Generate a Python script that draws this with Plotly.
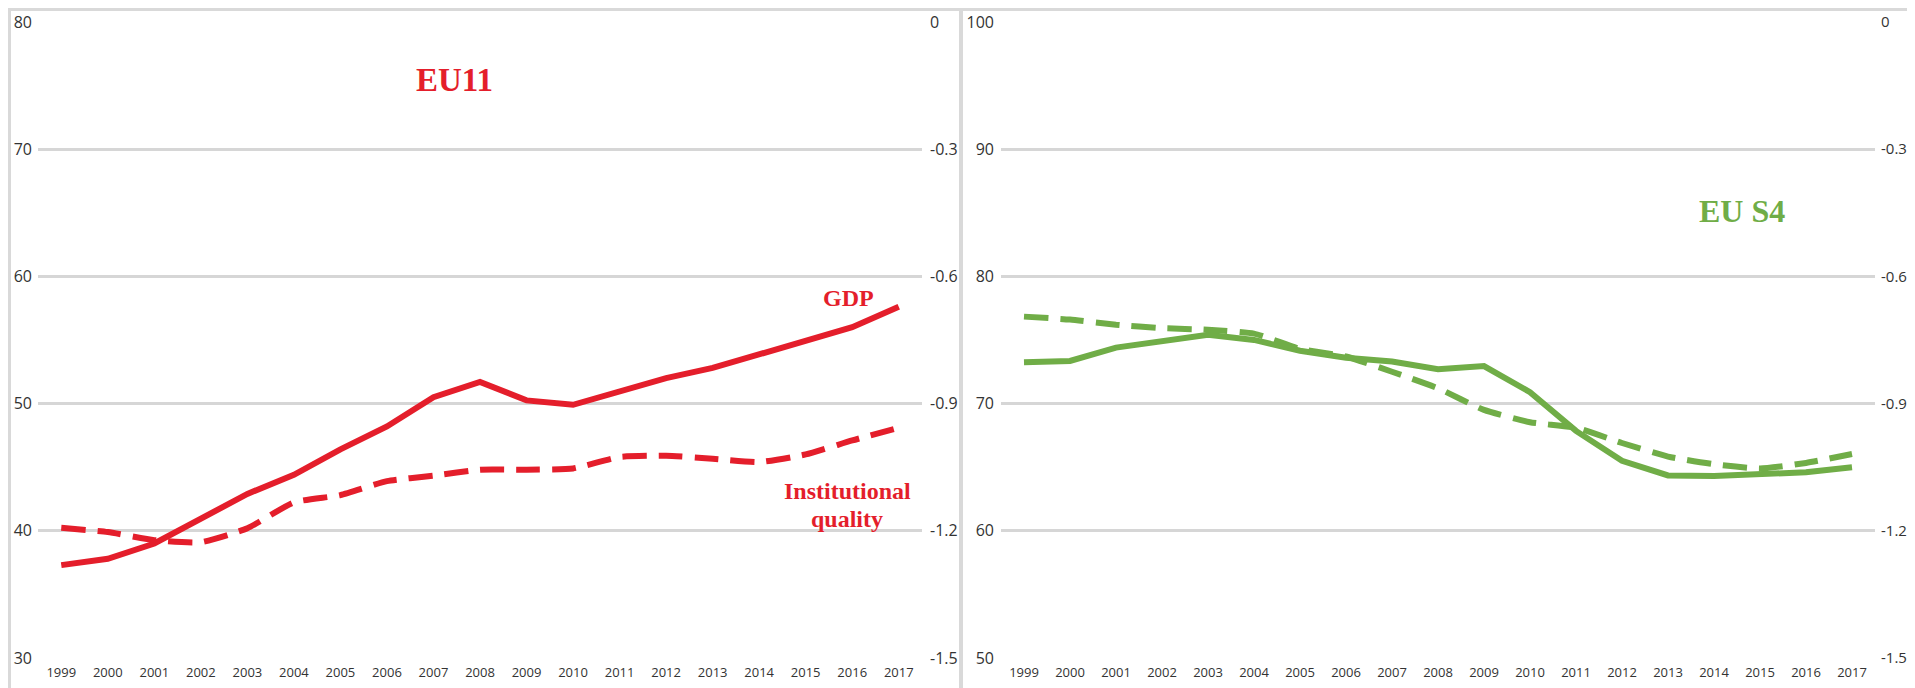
import plotly.graph_objects as go

years = [str(y) for y in range(1999, 2018)]

# EU11 (left panel)
eu11_gdp = [37.3, 37.8, 39.0, 40.9, 42.9, 44.4, 46.4, 48.2, 50.5, 51.7,
            50.25, 49.9, 51.0, 52.0, 52.8, 53.9, 55.0, 56.0, 57.6]
eu11_inst = [-1.193, -1.203, -1.222, -1.227, -1.194, -1.133, -1.116, -1.083, -1.070, -1.056,
             -1.056, -1.053, -1.026, -1.023, -1.030, -1.038, -1.020, -0.987, -0.957]

# EU S4 (right panel)
eus4_gdp = [73.25, 73.35, 74.4, 74.9, 75.4, 75.0, 74.15, 73.6, 73.3, 72.7,
            72.95, 70.9, 67.85, 65.5, 64.35, 64.3, 64.5, 64.6, 65.0]
eus4_inst = [-0.695, -0.702, -0.714, -0.722, -0.726, -0.735, -0.771, -0.789, -0.825, -0.864,
             -0.915, -0.944, -0.957, -0.993, -1.025, -1.043, -1.053, -1.040, -1.019]

left_ticks = [30, 40, 50, 60, 70, 80]
right_ticks = [50, 60, 70, 80, 90, 100]
sec_ticks = [0, -0.3, -0.6, -0.9, -1.2, -1.5]
sec_labels = ["0", "-0.3", "-0.6", "-0.9", "-1.2", "-1.5"]

RED = "#E41E2B"
GREEN = "#70AD47"
GRID = "#D6D6D6"
TXT = "#333333"
W, H = 1915, 688
OFF = 8  # page body margin offset


def px(x):
    return (x - OFF) / W


def py(y):
    return 1 - (y - OFF) / H


fig = go.Figure()
fig.add_trace(go.Scatter(x=years, y=eu11_gdp, mode="lines", xaxis="x", yaxis="y",
                         line=dict(color=RED, width=6), showlegend=False))
fig.add_trace(go.Scatter(x=years, y=eu11_inst, mode="lines", xaxis="x", yaxis="y2",
                         line=dict(color=RED, width=6, dash="24px,12px", shape="spline", smoothing=0.5),
                         showlegend=False))
fig.add_trace(go.Scatter(x=years, y=eus4_gdp, mode="lines", xaxis="x2", yaxis="y3",
                         line=dict(color=GREEN, width=6), showlegend=False))
fig.add_trace(go.Scatter(x=years, y=eus4_inst, mode="lines", xaxis="x2", yaxis="y4",
                         line=dict(color=GREEN, width=6, dash="24px,12px", shape="spline", smoothing=0.5),
                         showlegend=False))

ydom = [py(658), py(21.9)]
xdom1 = [px(38), px(922)]
xdom2 = [px(1001), px(1875)]

xcommon = dict(type="category", range=[-0.5, 18.5], showgrid=False, zeroline=False,
               showline=False, ticks="", automargin=False,
               tickfont=dict(family="Open Sans", size=13, color=TXT),
               ticklabelstandoff=5)
yfont = dict(family="Open Sans", size=16, color=TXT)
ycommon = dict(showline=False, zeroline=False, ticks="", automargin=False)

fig.update_layout(
    width=W, height=H,
    margin=dict(l=0, r=0, t=0, b=0, pad=0, autoexpand=False),
    paper_bgcolor="white", plot_bgcolor="white",
    xaxis=dict(domain=xdom1, anchor="y", **xcommon),
    xaxis2=dict(domain=xdom2, anchor="y3", **xcommon),
    yaxis=dict(domain=ydom, anchor="x", range=[30, 80], tickvals=left_ticks,
               showgrid=True, gridcolor=GRID, gridwidth=3, ticklabelstandoff=5,
               tickfont=yfont, **ycommon),
    yaxis2=dict(overlaying="y", side="right", anchor="x", range=[-1.5, 0],
                tickvals=sec_ticks, ticktext=sec_labels, showgrid=False,
                ticklabelstandoff=7, tickfont=yfont, **ycommon),
    yaxis3=dict(domain=ydom, anchor="x2", range=[50, 100], tickvals=right_ticks,
                showgrid=True, gridcolor=GRID, gridwidth=3, ticklabelstandoff=6,
                tickfont=yfont, **ycommon),
    yaxis4=dict(overlaying="y3", side="right", anchor="x2", range=[-1.5, 0],
                tickvals=sec_ticks, ticktext=sec_labels, showgrid=False,
                ticklabelstandoff=5, tickfont=dict(family="Open Sans", size=15, color=TXT),
                **ycommon),
)

# panel frames
fig.add_shape(type="rect", xref="paper", yref="paper",
              x0=1.5 / W, x1=px(960.5), y0=-0.1, y1=1 - 1.5 / H,
              line=dict(color="#D9D9D9", width=3), layer="below")
fig.add_shape(type="rect", xref="paper", yref="paper",
              x0=px(961.5), x1=1.2, y0=-0.1, y1=1 - 1.5 / H,
              line=dict(color="#D9D9D9", width=3), layer="below")


def ann(text, x, y, color, size):
    fig.add_annotation(text=text, xref="paper", yref="paper", x=px(x), y=py(y),
                       xanchor="center", yanchor="middle", showarrow=False,
                       font=dict(family="Liberation Serif", size=size, color=color))


ann("<b>EU11</b>", 454, 80, RED, 33)
ann("<b>GDP</b>", 848, 298, RED, 24)
ann("<b>Institutional</b>", 847, 491, RED, 24)
ann("<b>quality</b>", 847, 519, RED, 24)
ann("<b>EU S4</b>", 1742, 211, GREEN, 32)

fig.write_html("out.html")
